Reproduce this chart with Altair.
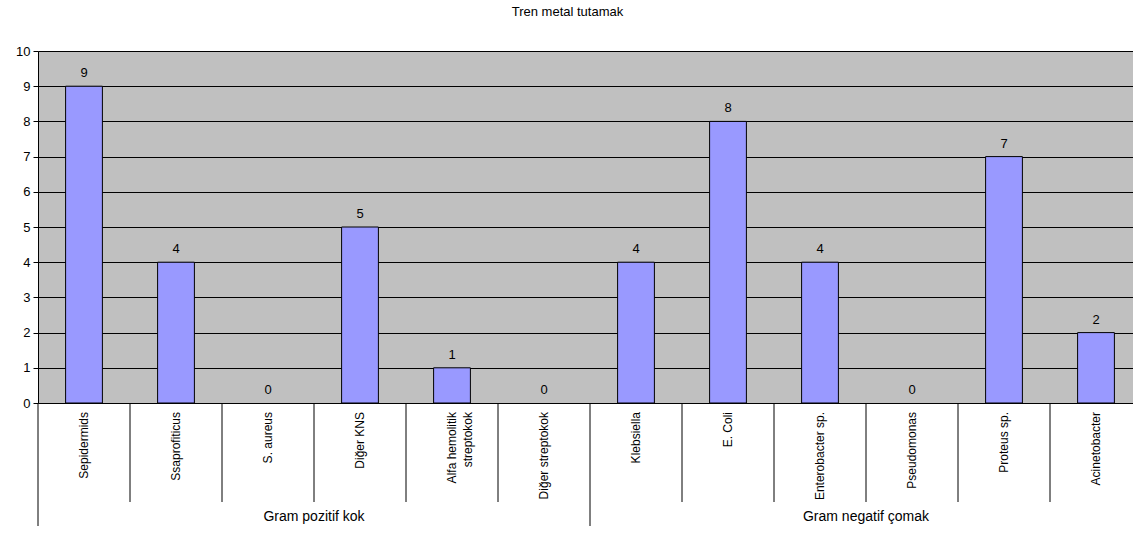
import altair as alt
import pandas as pd

categories = ["Sepidermids", "Ssaprofiticus", "S. aureus", "Diğer KNS",
              "Alfa hemolitik\nstreptokok", "Diğer streptokok",
              "Klebsiella", "E. Coli", "Enterobacter sp.", "Pseudomonas",
              "Proteus sp.", "Acinetobacter"]
values = [9, 4, 0, 5, 1, 0, 4, 8, 4, 0, 7, 2]
groups = ["Gram pozitif  kok"] * 6 + ["Gram negatif çomak"] * 6
y_ticks = [0, 1, 2, 3, 4, 5, 6, 7, 8, 9, 10]
title_text = "Tren metal tutamak"

FONT = "Liberation Sans"
N = len(categories)
RANGE = [0, 1104]

df = pd.DataFrame({"cat": categories, "value": values, "group": groups})

# boundaries between categories (left edge of each category)
seps = pd.DataFrame({
    "pos": list(range(N)),
    "group_start": [bool(i == 0 or groups[i] != groups[i - 1]) for i in range(N)],
})
# group label centres
gnames = []
gcent = []
for g in dict.fromkeys(groups):
    ids = [i for i, gg in enumerate(groups) if gg == g]
    gnames.append(g)
    gcent.append((ids[0] + ids[-1] + 1) / 2)
gdf = pd.DataFrame({"group": gnames, "center": gcent})

xband = alt.X("cat:N", sort=categories,
              scale=alt.Scale(domain=categories, range=RANGE,
                              paddingInner=0.6, paddingOuter=0.3),
              axis=None)
xq = alt.Scale(domain=[0, N], range=RANGE)
yscale = alt.Scale(domain=[0, 10], nice=False)
yaxis = alt.Axis(values=y_ticks, tickCount=11, title=None, grid=True,
                 gridColor="black", gridWidth=1, domainColor="black",
                 tickColor="black", tickSize=5, labelFontSize=13,
                 labelFont=FONT, labelColor="black", labelPadding=3,
                 labelOverlap=False)

base = alt.Chart(df)

bars = base.mark_bar(color="#9999FF", stroke="black", strokeWidth=1).encode(
    x=xband,
    y=alt.Y("value:Q", scale=yscale, axis=yaxis),
    opacity=alt.condition("datum.value > 0", alt.value(1), alt.value(0)),
)

vals = base.mark_text(font=FONT, fontSize=13, color="black", baseline="bottom", dy=-6).encode(
    x=xband, y=alt.Y("value:Q", scale=yscale, axis=yaxis), text="value:Q")

catlabels = base.transform_calculate(lab="split(datum.cat, '\\n')").mark_text(
    font=FONT, fontSize=12, color="black", angle=270, align="right",
    baseline="middle", lineHeight=16).encode(
    x=xband, y=alt.value(361), text="lab:N")

sep_short = alt.Chart(seps).transform_filter("!datum.group_start").mark_rule(
    color="black", strokeWidth=1).encode(
    x=alt.X("pos:Q", scale=xq, axis=None),
    y=alt.value(352), y2=alt.value(451),
)
sep_long = alt.Chart(seps).transform_filter("datum.group_start").mark_rule(
    color="black", strokeWidth=1).encode(
    x=alt.X("pos:Q", scale=xq, axis=None),
    y=alt.value(352), y2=alt.value(475),
)

glabels = alt.Chart(gdf).mark_text(font=FONT, fontSize=14, color="black",
                                   baseline="middle").encode(
    x=alt.X("center:Q", scale=xq, axis=None),
    y=alt.value(466),
    text="group:N",
)

chart = alt.layer(bars, vals, catlabels, sep_short, sep_long, glabels).resolve_scale(
    x="independent"
).properties(
    width=1095, height=352,
    background="white",
    autosize=alt.AutoSizeParams(type="none"),
    padding={"left": 38, "top": 51, "right": 0, "bottom": 130},
    title=alt.TitleParams(title_text, font=FONT, fontSize=13, fontWeight="normal",
                          color="black", anchor="middle", offset=26, dx=-18),
).configure_view(fill="#C0C0C0", stroke=None)

chart.save("out.html", embed_options={"renderer": "svg", "actions": False})
